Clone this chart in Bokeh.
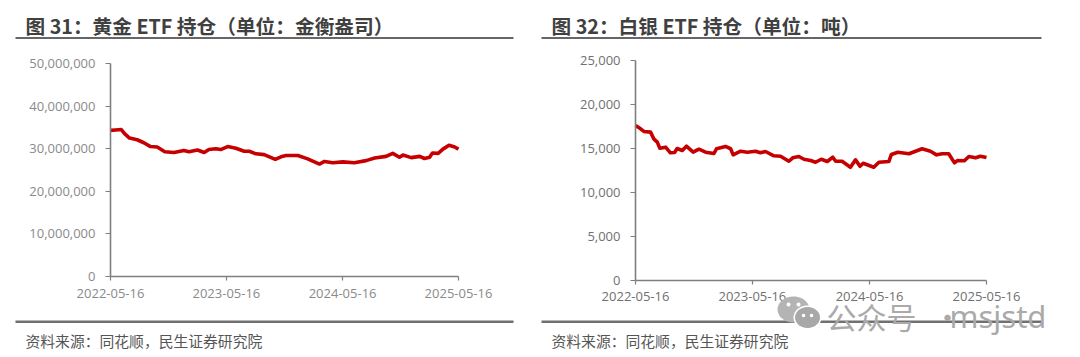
import numpy as np
from bokeh.plotting import figure
from bokeh.layouts import row
from bokeh.models import Range1d, FixedTicker, Label, PolyAnnotation, LinearAxis
from bokeh.embed import file_html
from bokeh.resources import INLINE

gold_days = [0,16,34,45,60,84,105,126,147,171,200,231,247,274,295,310,332,347,369,395,421,437,458,484,519,537,553,590,621,658,674,700,732,768,805,832,868,889,910,921,947,974,989,1005,1014,1032,1047,1066,1084,1096]
gold_vals = [34.3,34.4,34.5,33.5,32.5,32.1,31.4,30.5,30.4,29.3,29.1,29.6,29.3,29.7,29.1,29.8,30.0,29.8,30.5,30.1,29.4,29.4,28.8,28.6,27.5,28.1,28.4,28.4,27.6,26.4,27.0,26.7,26.9,26.7,27.2,27.8,28.2,28.9,28.0,28.5,27.9,28.2,27.7,28.0,29.0,28.9,29.9,30.8,30.4,29.9]
silver_days = [0,16,26,47,57,68,76,94,109,122,130,146,159,180,198,219,245,253,281,297,305,328,349,375,390,406,432,453,479,491,510,526,547,562,580,599,616,625,645,671,687,701,711,744,760,791,799,819,854,895,921,940,958,978,996,1005,1027,1041,1062,1077,1096]
silver_vals = [17.62,17.24,16.94,16.86,16.1,15.72,15.03,15.15,14.51,14.54,15.0,14.77,15.26,14.58,14.92,14.58,14.43,14.97,15.23,14.97,14.28,14.69,14.58,14.69,14.51,14.66,14.17,14.12,13.55,13.94,14.09,13.78,13.63,13.44,13.78,13.52,14.01,13.55,13.55,12.87,13.71,12.98,13.33,12.87,13.44,13.52,14.32,14.58,14.40,14.97,14.69,14.28,14.40,14.40,13.37,13.63,13.60,14.09,13.94,14.12,13.97]
date_ticks = [0, 365, 731, 1096]
date_labels = ["2022-05-16", "2023-05-16", "2024-05-16", "2025-05-16"]
gold_ticks = [0, 10, 20, 30, 40, 50]
gold_labels = ["0", "10,000,000", "20,000,000", "30,000,000", "40,000,000", "50,000,000"]
silver_ticks = [0, 5, 10, 15, 20, 25]
silver_labels = ["0", "5,000", "10,000", "15,000", "20,000", "25,000"]

FONT = "Noto Sans CJK SC"
TICK_FONT = "Open Sans"
RED = "#c60000"
H = 357


def poly(p, xs, ys, color, alpha=1.0):
    p.add_layout(PolyAnnotation(xs=list(xs), ys=list(ys), xs_units="canvas", ys_units="canvas",
                                fill_color=color, fill_alpha=alpha, line_color=None, level="overlay"))


def rule(p, x0, x1, y, h=2, color="#666666"):
    poly(p, [x0, x1, x1, x0], [y, y, y + h, y + h], color)


def text(p, x, y, s, size, color, style="normal", font=FONT, alpha=1.0):
    p.add_layout(Label(x=x, y=y, x_units="canvas", y_units="canvas", text=s, text_font=font, text_font_size=size,
                       text_color=color, text_font_style=style, text_baseline="alphabetic", text_alpha=alpha,
                       level="overlay"))


def panel(width, ax_l, ax_r, ax_t, ax_b, ymax, ticks, labels, days, vals, title, tcolor, rx0, rx1, tx, stand):
    kx = 1096 / (ax_r - ax_l)
    ky = ymax / (ax_b - ax_t)
    p = figure(width=width, height=H, output_backend="svg", toolbar_location=None,
               x_range=Range1d(-ax_l * kx, (width - ax_l) * kx),
               y_range=Range1d(-(H - ax_b) * ky, ax_b * ky),
               x_axis_type=None, y_axis_type=None,
               min_border_left=0, min_border_right=0, min_border_top=0, min_border_bottom=0)
    p.outline_line_color = None
    p.grid.visible = False
    xa = LinearAxis(fixed_location=0, bounds=(0, 1096))
    ya = LinearAxis(fixed_location=0, bounds=(0, ymax))
    p.add_layout(xa, "below")
    p.add_layout(ya, "left")
    for ax, tk, lb in ((xa, date_ticks, date_labels), (ya, ticks, labels)):
        ax.ticker = FixedTicker(ticks=tk)
        ax.major_label_overrides = dict(zip(tk, lb))
        ax.axis_line_color = "#7f7f7f"
        ax.axis_line_width = 1.6
        ax.major_tick_line_color = "#7f7f7f"
        ax.major_tick_line_width = 1.2
        ax.major_tick_in = 0
        ax.minor_tick_line_color = None
        ax.major_label_text_font = TICK_FONT
        ax.major_label_text_font_size = "13px"
        ax.major_label_text_color = tcolor
    xa.major_tick_out = 4
    ya.major_tick_out = 5
    xa.major_label_standoff = stand
    ya.major_label_standoff = 10
    p.line(days, vals, line_color=RED, line_width=3.6, line_join="round")
    rule(p, rx0, rx1, 36.5)
    rule(p, rx0, rx1, 320, h=2.5, color="#707070")
    text(p, tx, 25, title, "19.7px", "#404040", "bold")
    text(p, tx, 340, "资料来源：同花顺，民生证券研究院", "14.8px", "#555555")
    return p


left = panel(533, 110, 458, 63, 276, 50, gold_ticks, gold_labels, gold_days, gold_vals,
             "图 31：黄金 ETF 持仓（单位：金衡盎司）", "#8a8a8a", 15, 513, 25, 8)
right = panel(547, 102, 453, 60, 280, 25, silver_ticks, silver_labels, silver_days, silver_vals,
              "图 32：白银 ETF 持仓（单位：吨）", "#707070", 8, 508, 18, 7)


def blob(p, cx, cy, rx, ry, color, alpha=1.0):
    t = np.linspace(0, 2 * np.pi, 40)
    poly(p, cx + rx * np.cos(t), cy + ry * np.sin(t), color, alpha)


blob(right, 260, 309, 16, 13, "#b4b4b4")
blob(right, 274, 317, 14, 12, "#ffffff")
blob(right, 274, 317, 12.5, 10.5, "#a8a8a8")
for ex, ey, er in ((255, 304, 2), (265, 304, 2), (270, 315, 1.7), (278, 315, 1.7)):
    blob(right, ex, ey, er, er, "#ffffff")
text(right, 293, 315, "公众号", "30px", "#aaaaaa")
text(right, 399, 315, "·", "30px", "#aaaaaa")
text(right, 416, 315, "msjstd", "31px", "#aaaaaa", font="Noto Sans")

open("out.html", "w").write(file_html(row(left, right, spacing=0), INLINE))
